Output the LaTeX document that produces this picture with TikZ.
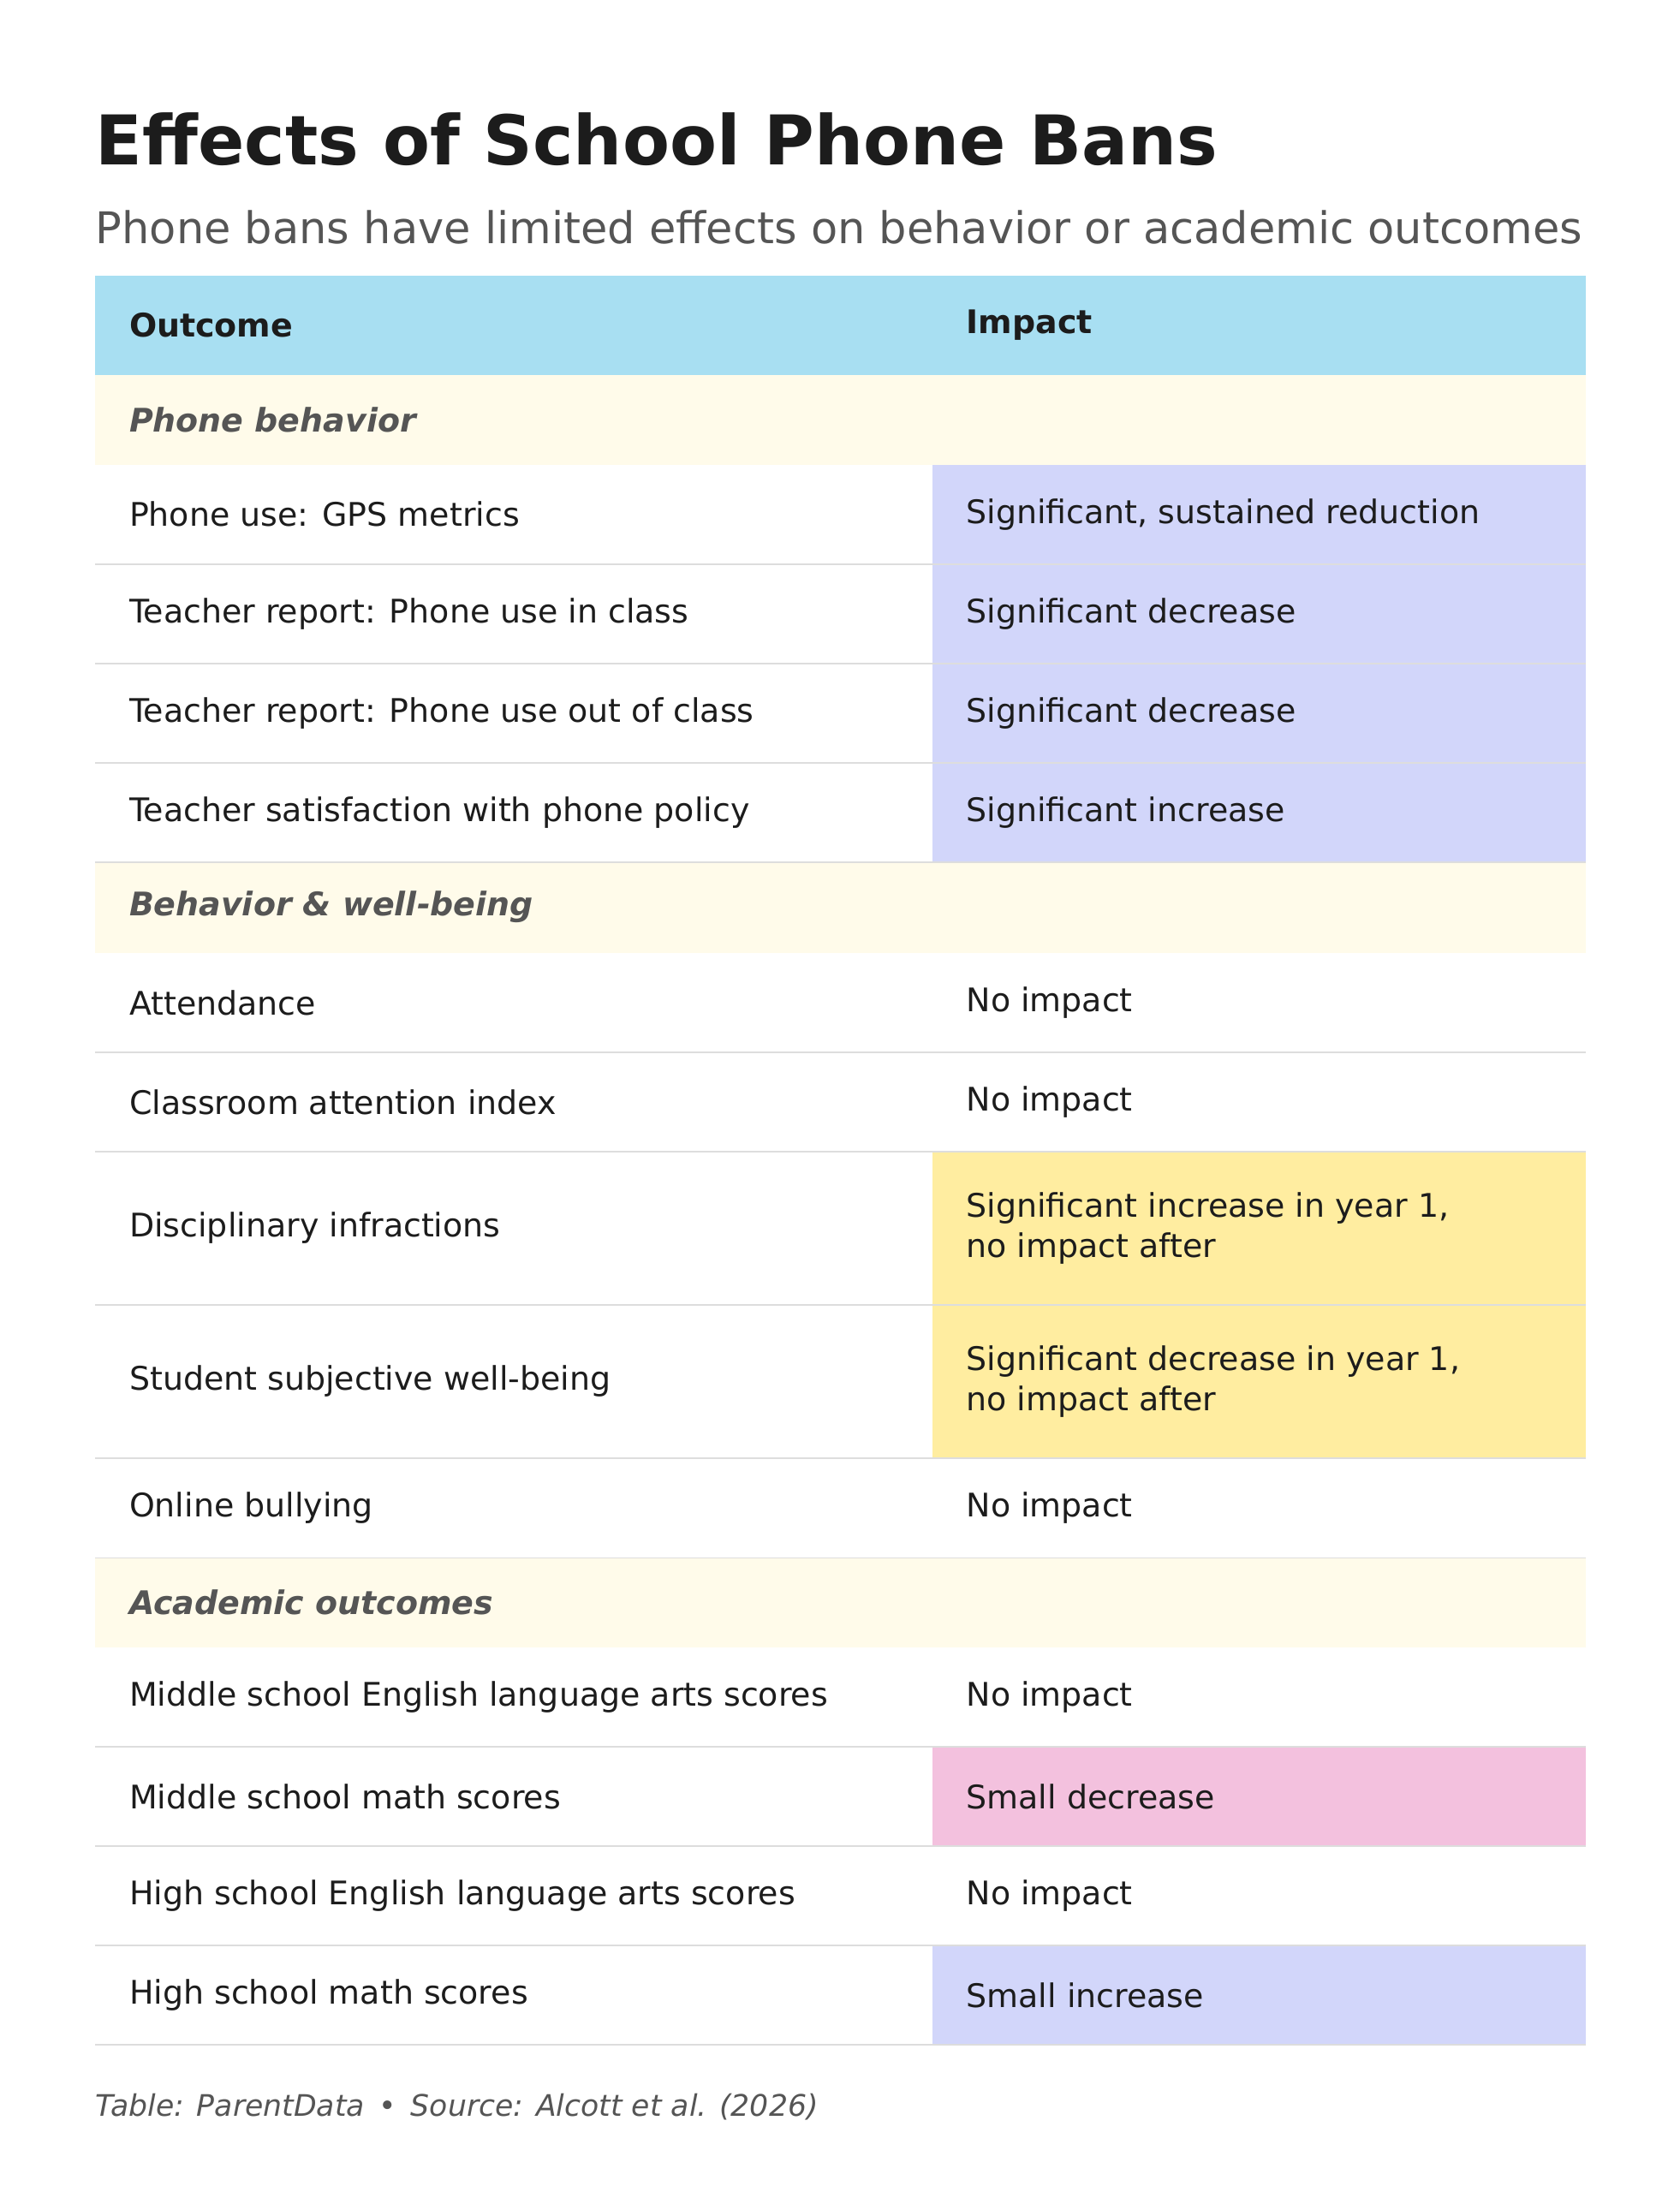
\documentclass[tikz,border=0pt]{standalone}
\usepackage{fontspec}
\setmainfont{DejaVu Sans}
\definecolor{hdr}{HTML}{A8DFF2}
\definecolor{sec}{HTML}{FFFBEA}
\definecolor{blu}{HTML}{D2D6FA}
\definecolor{yel}{HTML}{FFEDA0}
\definecolor{pnk}{HTML}{F3C1DE}
\definecolor{txt}{HTML}{1C1C1C}
\definecolor{gry}{HTML}{555555}
\definecolor{rule}{HTML}{DDDDDD}
\begin{document}
\begin{tikzpicture}[x=0.5pt,y=-0.5pt,
  cell/.style={anchor=west,inner sep=0pt,text=txt,font=\fontsize{11.6}{14.5}\selectfont,align=left},
  hcell/.style={cell,font=\fontsize{11.6}{14.5}\selectfont\bfseries},
  scell/.style={cell,text=gry,font=\fontsize{11.6}{14.5}\selectfont\bfseries\itshape},
  rl/.style={draw=rule,line width=0.6pt}]
\useasboundingbox[fill=white] (0,0) rectangle (1200,1566);
\node[anchor=base west,inner sep=0pt,text=txt,font=\fontsize{24.5}{28}\selectfont\bfseries] (title) at (68,118) {Effects of School Phone Bans};
\node[anchor=base west,inner sep=0pt,text=gry,font=\fontsize{15.6}{18}\selectfont] (sub) at (68,174) {Phone bans have limited effects on behavior or academic outcomes};
% header
\fill[hdr] (68,197) rectangle (1133,268);
\node[hcell] (h1) at (92,232) {Outcome};
\node[hcell] (h2) at (690,232) {Impact};
% sections
\foreach \a/\b in {268/332,616/681,1113/1177} \fill[sec] (68,\a) rectangle (1133,\b);
\node[scell] (s1) at (92,300) {Phone behavior};
\node[scell] (s2) at (92,648) {Behavior \& well-being};
\node[scell] (s3) at (92,1145) {Academic outcomes};
% impact fills
\foreach \a/\b/\c in {332/403/blu,403/474/blu,474/545/blu,545/616/blu,823/932/yel,932/1042/yel,1248/1319/pnk,1390/1461/blu}
  \fill[\c] (666,\a) rectangle (1133,\b);
% rules
\foreach \y in {403,474,545,616,752,823,932,1042,1113,1248,1319,1390,1461}
  \draw[rl] (68,\y) -- (1133,\y);
% rows
\foreach \y/\l/\r [count=\i] in {
 367.5/Phone use: GPS metrics/{Significant, sustained reduction},
 438.5/Teacher report: Phone use in class/Significant decrease,
 509.5/Teacher report: Phone use out of class/Significant decrease,
 580.5/Teacher satisfaction with phone policy/Significant increase,
 716.5/Attendance/No impact,
 787.5/Classroom attention index/No impact,
 877.5/Disciplinary infractions/{Significant increase in year 1,\\no impact after},
 987/Student subjective well-being/{Significant decrease in year 1,\\no impact after},
 1077.5/Online bullying/No impact,
 1212.5/Middle school English language arts scores/No impact,
 1283.5/Middle school math scores/Small decrease,
 1354.5/High school English language arts scores/No impact,
 1425.5/High school math scores/Small increase}
{
 \node[cell] (l\i) at (92,\y) {\l};
 \node[cell] (r\i) at (690,\y) {\r};
}
\node[anchor=base west,inner sep=0pt,text=gry,font=\fontsize{10.6}{13}\selectfont\itshape] (foot) at (68,1512) {Table: ParentData \,•\, Source: Alcott et al. (2026)};
\end{tikzpicture}
\end{document}
